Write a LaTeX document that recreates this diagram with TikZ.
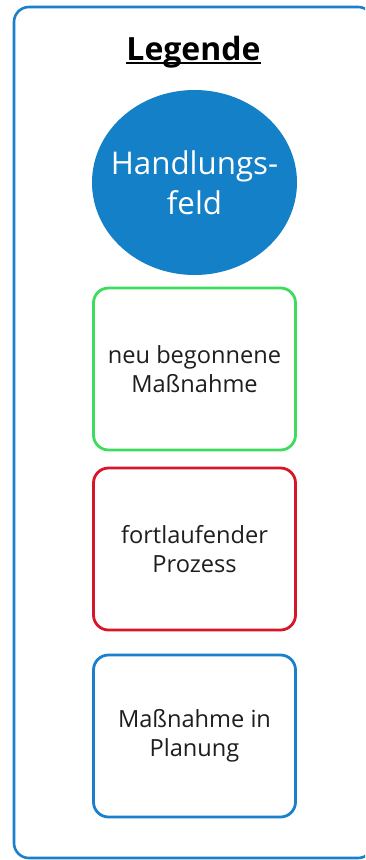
\documentclass[tikz,border=0pt]{standalone}
\usepackage{fontspec}
\setmainfont{Open Sans}
\usetikzlibrary{shapes.geometric}
\definecolor{frameblue}{HTML}{1A80CC}
\definecolor{fieldblue}{HTML}{1380C8}
\definecolor{newgreen}{HTML}{3DDC5C}
\definecolor{procred}{HTML}{D8162A}
\definecolor{txt}{HTML}{1E1E1E}
\tikzset{
  frame/.style={draw=frameblue, line width=2.6pt, rounded corners=15pt},
  field/.style={ellipse, fill=fieldblue, minimum width=205pt, minimum height=185pt, inner sep=0pt},
  fieldtext/.style={inner sep=0pt, text=white, align=center, font=\fontsize{31.3}{40}\selectfont},
  legbox/.style={draw, rounded corners=15pt, line width=2.8pt, minimum width=202pt, minimum height=162pt,
    inner sep=0pt, align=center, text=txt, font=\fontsize{23.6}{29}\selectfont},
  titletext/.style={inner sep=0pt, anchor=base, font=\fontsize{32}{38}\selectfont\bfseries, text=black}
}
\begin{document}
\begin{tikzpicture}[x=1pt,y=-1pt]
\useasboundingbox (0,0) rectangle (365,860);
\clip (0,0) rectangle (365,860);
\fill[white] (0,0) rectangle (365,860);
\draw[frame] (14,7) rectangle (373,858);
\node[titletext] (title) at (193.5,60) {Legende};
\draw[line width=2pt] ([yshift=-3pt]title.base west) -- ([yshift=-3pt]title.base east);
\node[field] (feld) at (194.5,182.5) {};
\node[fieldtext] (feldtext) at (feld.center) {Handlungs-\\feld};
\node[legbox, draw=newgreen] (neu) at (194.5,369) {neu begonnene\\Maßnahme};
\node[legbox, draw=procred] (proz) at (194.5,549) {fortlaufender\\Prozess};
\node[legbox, draw=frameblue] (plan) at (194.5,736) {Maßnahme in\\Planung};
\end{tikzpicture}
\end{document}
